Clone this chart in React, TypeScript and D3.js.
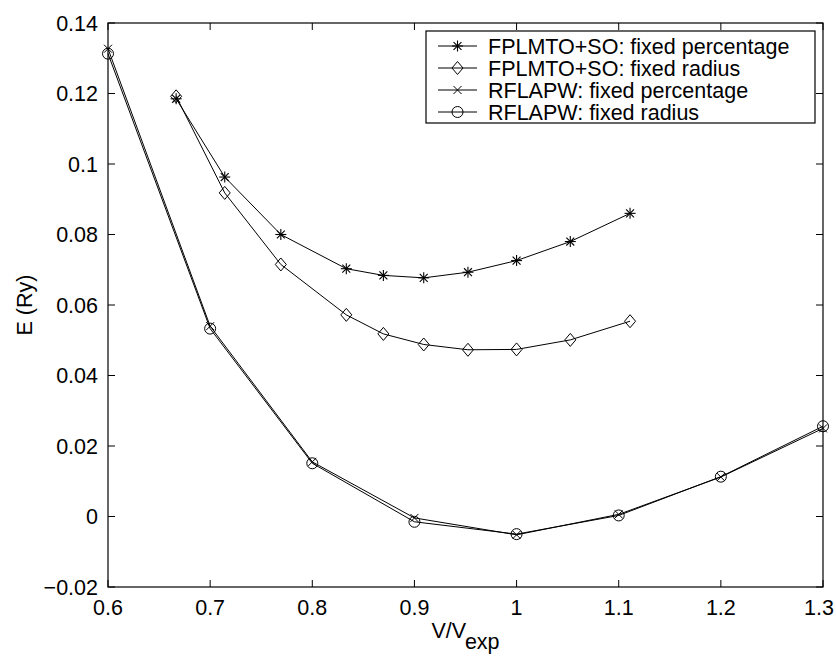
import React from "react";
import * as d3 from "d3";

const fpX = [0.6667, 0.7143, 0.7692, 0.8333, 0.8696, 0.9091, 0.9524, 1.0, 1.0526, 1.1111];
const fpPercent = [0.1185, 0.0963, 0.0800, 0.0703, 0.0684, 0.0677, 0.0693, 0.0726, 0.0780, 0.0860];
const fpRadius = [0.1192, 0.0918, 0.0715, 0.0572, 0.0518, 0.0488, 0.0473, 0.0474, 0.0501, 0.0554];
const rfX = [0.6, 0.7, 0.8, 0.9, 1.0, 1.1, 1.2, 1.3];
const rfPercent = [0.1327, 0.0540, 0.0155, -0.0004, -0.0052, 0.0006, 0.0112, 0.0250];
const rfRadius = [0.1313, 0.0533, 0.0151, -0.0015, -0.0050, 0.0003, 0.0113, 0.0256];
const xTicks = [0.6, 0.7, 0.8, 0.9, 1.0, 1.1, 1.2, 1.3];
const yTicks = [-0.02, 0, 0.02, 0.04, 0.06, 0.08, 0.1, 0.12, 0.14];
const legendLabels = [
  "FPLMTO+SO: fixed percentage",
  "FPLMTO+SO: fixed radius",
  "RFLAPW: fixed percentage",
  "RFLAPW: fixed radius",
];

type MarkerKind = "star" | "diamond" | "x" | "circle";

function Marker({ kind, x, y }: { kind: MarkerKind; x: number; y: number }) {
  const s = "#000";
  if (kind === "star") {
    const r = 5.5;
    const d = r * 0.72;
    return (
      <g stroke={s} strokeWidth={1.1}>
        <line x1={x - r} y1={y} x2={x + r} y2={y} />
        <line x1={x} y1={y - r} x2={x} y2={y + r} />
        <line x1={x - d} y1={y - d} x2={x + d} y2={y + d} />
        <line x1={x - d} y1={y + d} x2={x + d} y2={y - d} />
      </g>
    );
  }
  if (kind === "diamond") {
    const w = 5.5, h = 6.5;
    return (
      <path
        d={`M${x},${y - h}L${x + w},${y}L${x},${y + h}L${x - w},${y}Z`}
        fill="none"
        stroke={s}
        strokeWidth={1}
      />
    );
  }
  if (kind === "x") {
    const r = 4;
    return (
      <g stroke={s} strokeWidth={1}>
        <line x1={x - r} y1={y - r} x2={x + r} y2={y + r} />
        <line x1={x - r} y1={y + r} x2={x + r} y2={y - r} />
      </g>
    );
  }
  return <circle cx={x} cy={y} r={5.5} fill="none" stroke={s} strokeWidth={1} />;
}

export default function App() {
  const W = 836, H = 657;
  const left = 108, right = 823, top = 23, bottom = 587;
  const xs = d3.scaleLinear().domain([0.6, 1.3]).range([left, right]);
  const ys = d3.scaleLinear().domain([-0.02, 0.14]).range([bottom, top]);
  const line = d3
    .line<[number, number]>()
    .x((d) => xs(d[0]))
    .y((d) => ys(d[1]));

  const series: { xv: number[]; yv: number[]; kind: MarkerKind }[] = [
    { xv: fpX, yv: fpPercent, kind: "star" },
    { xv: fpX, yv: fpRadius, kind: "diamond" },
    { xv: rfX, yv: rfPercent, kind: "x" },
    { xv: rfX, yv: rfRadius, kind: "circle" },
  ];
  const kinds: MarkerKind[] = ["star", "diamond", "x", "circle"];
  const font = "'Liberation Sans', Arial, Helvetica, sans-serif";
  const fs = 21.5;
  const tl = 7;
  const fmt = (v: number) => {
    if (Math.abs(v) < 1e-9) return "0";
    const s = String(+v.toFixed(2));
    return s.replace("-", "\u2212");
  };

  const legX = 426, legY = 31, legW = 389, legRow = 22;

  return (
    <svg
      width={W}
      height={H}
      style={{ position: "absolute", left: 0, top: 0, background: "#fff" }}
      fontFamily={font}
    >
      <rect x={0} y={0} width={W} height={H} fill="#fff" />
      {/* ticks */}
      <g stroke="#000" strokeWidth={1}>
        {xTicks.map((t) => (
          <g key={"xt" + t}>
            <line x1={xs(t)} x2={xs(t)} y1={bottom} y2={bottom - tl} />
            <line x1={xs(t)} x2={xs(t)} y1={top} y2={top + tl} />
          </g>
        ))}
        {yTicks.map((t) => (
          <g key={"yt" + t}>
            <line x1={left} x2={left + tl} y1={ys(t)} y2={ys(t)} />
            <line x1={right} x2={right - tl} y1={ys(t)} y2={ys(t)} />
          </g>
        ))}
      </g>
      {/* series */}
      {series.map((s, i) => (
        <g key={"s" + i}>
          <path
            d={line(s.xv.map((x, j) => [x, s.yv[j]] as [number, number])) || ""}
            fill="none"
            stroke="#000"
            strokeWidth={1}
          />
          {s.xv.map((x, j) => (
            <Marker key={j} kind={s.kind} x={xs(x)} y={ys(s.yv[j])} />
          ))}
        </g>
      ))}
      {/* axes box */}
      <rect
        x={left}
        y={top}
        width={right - left}
        height={bottom - top}
        fill="none"
        stroke="#000"
        strokeWidth={1.2}
      />
      {/* tick labels */}
      <g fontSize={fs} fill="#000">
        {xTicks.map((t) => (
          <text key={"xl" + t} x={Math.min(xs(t), W - 17)} y={615} textAnchor="middle">
            {fmt(t)}
          </text>
        ))}
        {yTicks.map((t) => (
          <text key={"yl" + t} x={98} y={ys(t)} dy="0.36em" textAnchor="end">
            {fmt(t)}
          </text>
        ))}
      </g>
      {/* axis labels */}
      <text
        transform={`translate(32,${(top + bottom) / 2}) rotate(-90)`}
        textAnchor="middle"
        fontSize={fs}
      >
        E (Ry)
      </text>
      <text x={(left + right) / 2} y={638} textAnchor="middle" fontSize={fs}>
        V/V
        <tspan dy={11}>exp</tspan>
      </text>
      {/* legend */}
      <rect
        x={legX}
        y={legY}
        width={legW}
        height={legRow * 4 + 4}
        fill="#fff"
        stroke="#000"
        strokeWidth={1.2}
      />
      {legendLabels.map((lab, i) => {
        const cy = legY + 15 + i * legRow;
        return (
          <g key={"lg" + i}>
            <line x1={438} x2={477} y1={cy} y2={cy} stroke="#000" strokeWidth={1} />
            <Marker kind={kinds[i]} x={457.5} y={cy} />
            <text x={488} y={cy} dy="0.36em" fontSize={fs}>
              {lab}
            </text>
          </g>
        );
      })}
    </svg>
  );
}
